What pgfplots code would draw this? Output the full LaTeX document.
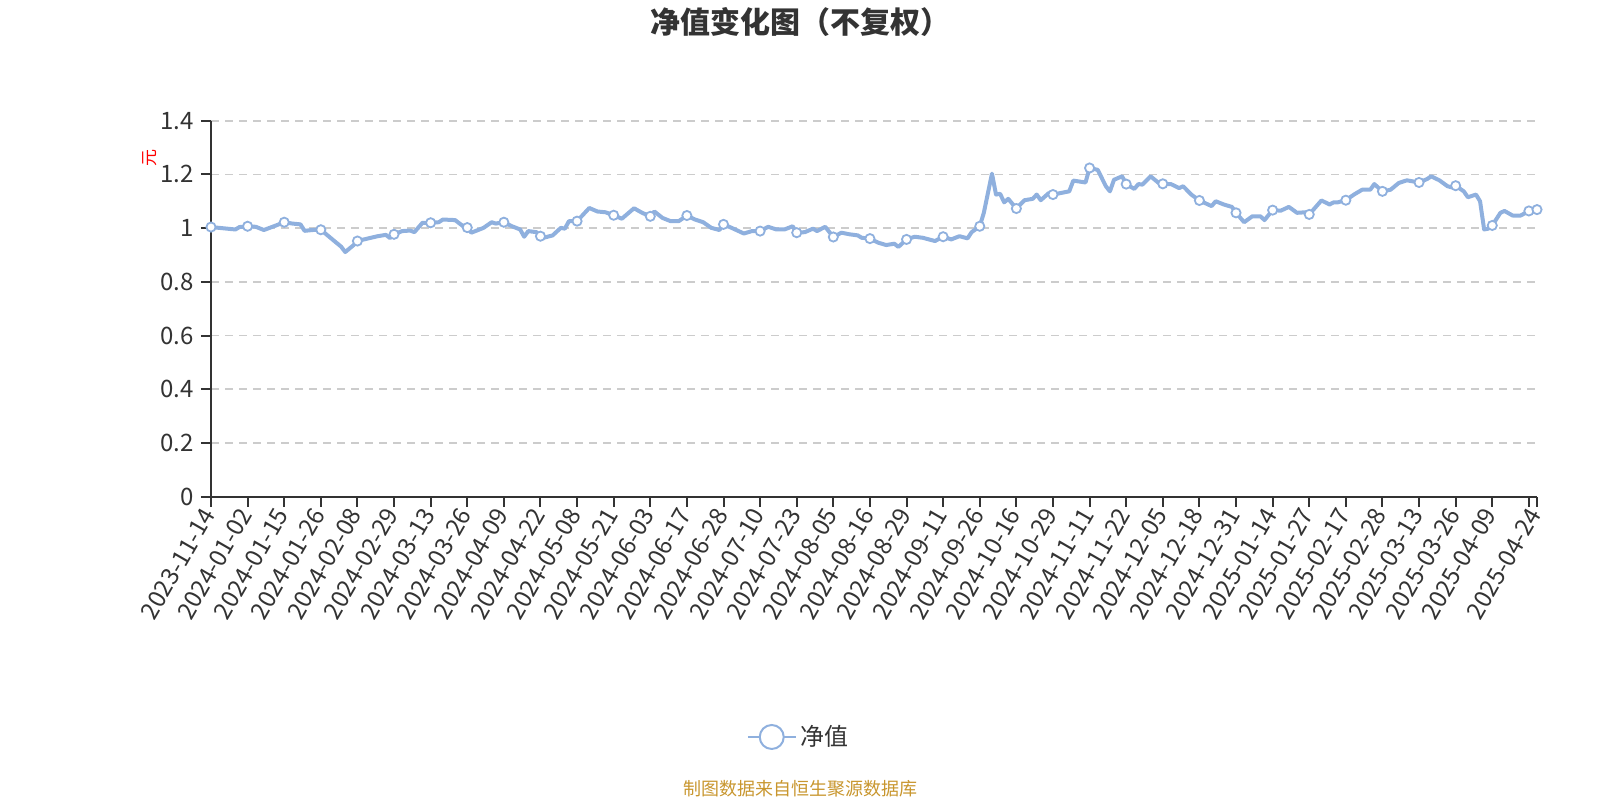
\documentclass[border=0pt]{standalone}
\usepackage{fontspec}
\setmainfont{Noto Sans CJK SC}
\usepackage{pgfplots}
\usepackage{pgfplotstable}
\pgfplotsset{compat=1.18}
\definecolor{linec}{HTML}{8FB0DE}
\definecolor{txt}{HTML}{333333}
\definecolor{gridc}{HTML}{CCCCCC}
\definecolor{srcc}{HTML}{C8962E}

\pgfplotstableread{
x y
0 1.004
6 0.995
7 1.004
9 1.007
11 1.005
13 0.993
16 1.010
18 1.022
20 1.017
22 1.014
23 0.990
25 0.993
27 0.994
30 0.956
32 0.931
33 0.911
35 0.936
36 0.952
39 0.963
41 0.970
43 0.975
44 0.963
45 0.977
47 0.989
49 0.991
50 0.985
52 1.020
54 1.020
56 1.022
57 1.032
60 1.030
62 1.007
63 1.002
64 0.983
66 0.995
67 1.001
69 1.022
70 1.017
72 1.022
74 1.007
76 0.995
77 0.968
78 0.989
80 0.985
81 0.970
82 0.965
84 0.973
86 1.001
87 0.998
88 1.026
90 1.026
93 1.075
95 1.062
97 1.059
99 1.048
101 1.035
104 1.074
106 1.057
108 1.044
109 1.062
111 1.038
113 1.026
115 1.026
117 1.047
119 1.032
121 1.022
123 1.001
125 0.993
126 1.014
128 1.001
131 0.980
133 0.989
135 0.989
137 1.005
139 0.995
141 0.995
143 1.007
144 0.983
146 0.985
148 0.998
149 0.989
151 1.005
153 0.967
155 0.983
157 0.977
159 0.973
160 0.964
162 0.961
164 0.946
166 0.937
168 0.942
169 0.930
171 0.958
173 0.968
175 0.964
178 0.952
180 0.968
182 0.958
184 0.970
186 0.962
187 0.985
189 1.007
190 1.057
192 1.203
193 1.125
194 1.128
195 1.096
196 1.109
198 1.073
200 1.104
202 1.109
203 1.125
204 1.104
206 1.131
207 1.125
209 1.131
211 1.137
212 1.177
215 1.170
216 1.224
218 1.217
220 1.156
221 1.137
222 1.180
224 1.193
225 1.164
227 1.146
228 1.164
229 1.162
231 1.193
233 1.168
234 1.165
236 1.164
238 1.149
239 1.156
241 1.125
243 1.103
244 1.096
246 1.082
247 1.100
249 1.088
251 1.079
252 1.057
254 1.022
256 1.044
258 1.044
259 1.030
261 1.067
263 1.065
265 1.079
267 1.057
269 1.059
270 1.051
273 1.103
275 1.088
276 1.096
277 1.096
279 1.104
281 1.125
283 1.143
285 1.143
286 1.164
288 1.137
290 1.143
292 1.168
294 1.178
297 1.170
299 1.183
300 1.193
302 1.178
304 1.156
305 1.152
306 1.158
308 1.137
309 1.115
311 1.125
312 1.100
313 0.995
314 0.998
315 1.010
317 1.057
318 1.064
320 1.047
322 1.047
324 1.064
326 1.069
}\navline

\pgfplotstableread{
x y
0 1.004
9 1.007
18 1.022
27 0.994
36 0.952
45 0.977
54 1.020
63 1.002
72 1.022
81 0.970
90 1.026
99 1.048
108 1.044
117 1.047
126 1.014
135 0.989
144 0.983
153 0.967
162 0.961
171 0.958
180 0.968
189 1.007
198 1.073
207 1.125
216 1.224
225 1.164
234 1.165
243 1.103
252 1.057
261 1.067
270 1.051
279 1.104
288 1.137
297 1.170
306 1.158
315 1.010
324 1.064
326 1.069
}\navmarks

\begin{document}
\begin{tikzpicture}
\path[use as bounding box] (0,0) rectangle (800pt,400pt);
\begin{axis}[
  at={(105.5pt,151.65pt)}, anchor=south west,
  scale only axis, width=663pt, height=188pt,
  xmin=0, xmax=326, ymin=0, ymax=1.4,
  clip=false,
  axis x line*=bottom, axis y line*=left,
  axis line style={-, draw=txt, line width=1pt},
  tick style={draw=txt, line width=1pt},
  major tick length=5pt,
  tick align=outside,
  ytick={0,0.2,0.4,0.6,0.8,1,1.2,1.4},
  yticklabels={0,0.2,0.4,0.6,0.8,1,1.2,1.4},
  ymajorgrids,
  grid style={draw=gridc, line width=0.8pt, dash pattern=on 4pt off 3pt},
  xtick={0,9,18,27,36,45,54,63,72,81,90,99,108,117,126,135,144,153,162,171,180,189,198,207,216,225,234,243,252,261,270,279,288,297,306,315,324,326},
  xticklabels={2023-11-14,2024-01-02,2024-01-15,2024-01-26,2024-02-08,2024-02-29,2024-03-13,2024-03-26,2024-04-09,2024-04-22,2024-05-08,2024-05-21,2024-06-03,2024-06-17,2024-06-28,2024-07-10,2024-07-23,2024-08-05,2024-08-16,2024-08-29,2024-09-11,2024-09-26,2024-10-16,2024-10-29,2024-11-11,2024-11-22,2024-12-05,2024-12-18,2024-12-31,2025-01-14,2025-01-27,2025-02-17,2025-02-28,2025-03-13,2025-03-26,2025-04-09,{},2025-04-24},
  xticklabel style={rotate=60, anchor=east, font=\fontsize{12}{14}\selectfont, text=txt, inner sep=2pt},
  yticklabel style={font=\fontsize{12}{14}\selectfont, text=txt},
  legend style={at={(0.444,-0.639)}, anchor=center, draw=none, fill=none,
    font=\fontsize{12}{14}\selectfont, text=txt},
  legend image code/.code={
    \draw[linec, line width=1pt] (0pt,0pt) -- (24pt,0pt);
    \draw[linec, line width=1pt, fill=white] (12pt,0pt) circle (6pt);
  },
]
\addplot[linec, line width=2pt, line join=round, mark=none] table[x=x,y=y] {\navline};
\addlegendentry{净值}
\addplot[only marks, mark=*, mark size=2.3pt, mark options={draw=linec, fill=white, line width=0.9pt}, forget plot] table[x=x,y=y] {\navmarks};
\end{axis}
\node[font=\fontsize{15}{17}\selectfont\bfseries, text=txt] at (400pt,388.75pt) {净值变化图（不复权）};
\node[rotate=90, text=red, font=\fontsize{8.5}{9}\selectfont] at (75pt,321pt) {元};
\node[text=srcc, font=\fontsize{9}{10}\selectfont] at (400pt,5.5pt) {制图数据来自恒生聚源数据库};
\end{tikzpicture}
\end{document}
